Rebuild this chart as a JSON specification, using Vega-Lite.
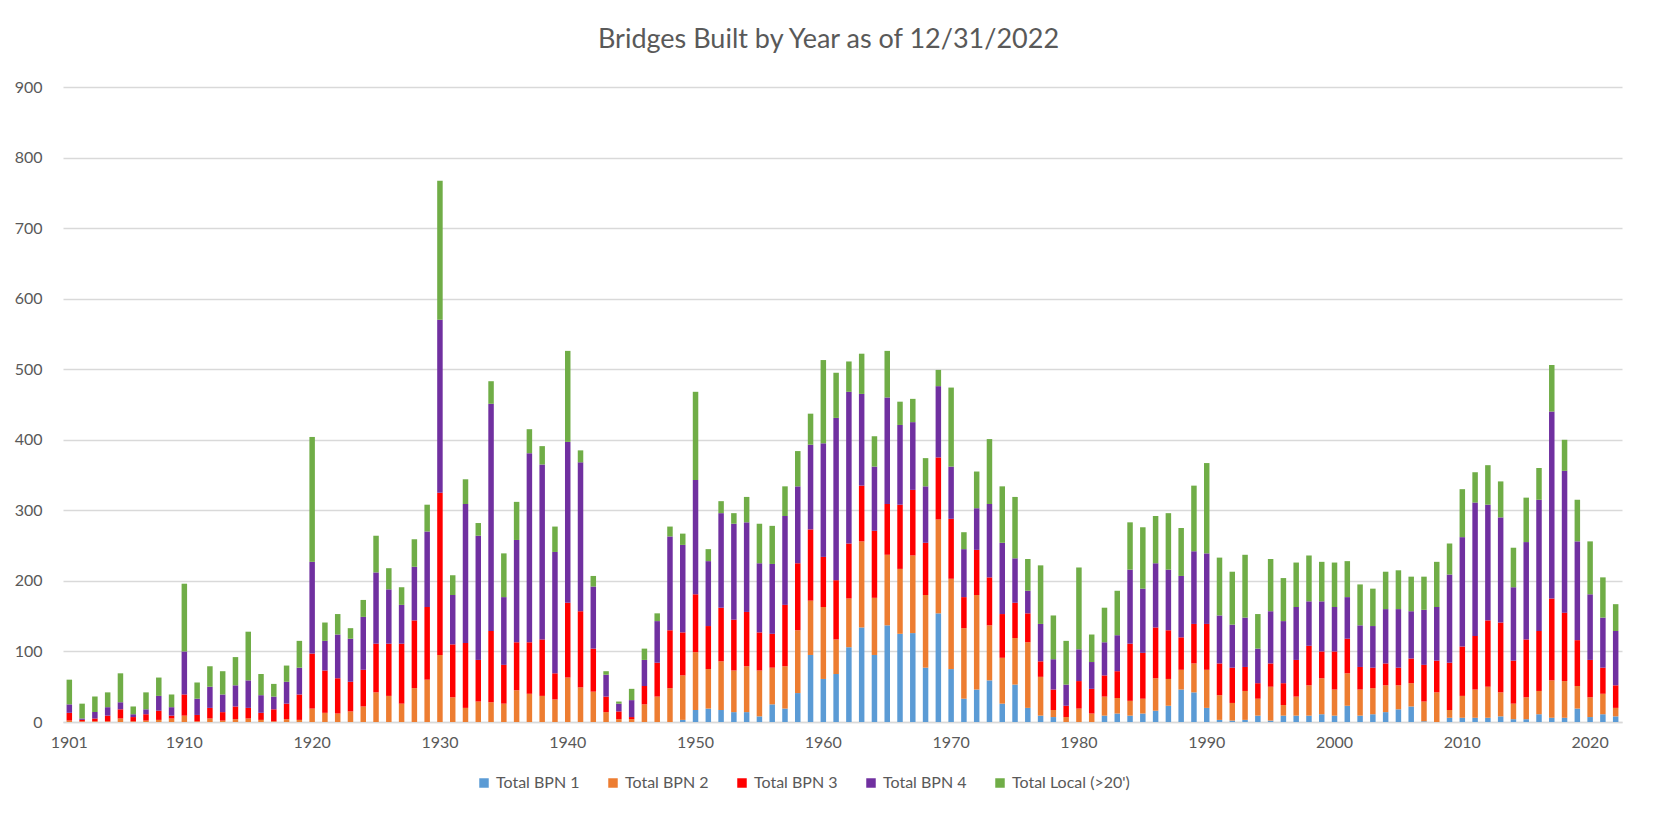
{
  "$schema": "https://vega.github.io/schema/vega-lite/v6.json",
  "autosize": {"type": "none"},
  "padding": {"left": 63, "top": 87, "right": 35, "bottom": 100},
  "width": 1559,
  "height": 635,
  "background": "white",
  "title": {"text": "Bridges Built by Year as of 12/31/2022", "font": "Lato", "fontSize": 27, "fontWeight": "normal", "color": "#595959", "anchor": "middle", "frame": "group", "dx": -14, "offset": 25},
  "config": {"view": {"stroke": null}, "font": "Lato"},
  "data": {"values": [
{"year":1901,"b1":0,"b2":2,"b3":11,"b4":12,"lo":35},
{"year":1902,"b1":0,"b2":1,"b3":2,"b4":2,"lo":21},
{"year":1903,"b1":0,"b2":1,"b3":4,"b4":9,"lo":22},
{"year":1904,"b1":0,"b2":1,"b3":8,"b4":12,"lo":21},
{"year":1905,"b1":0,"b2":5,"b3":13,"b4":10,"lo":41},
{"year":1906,"b1":0,"b2":1,"b3":6,"b4":4,"lo":11},
{"year":1907,"b1":0,"b2":2,"b3":9,"b4":7,"lo":24},
{"year":1908,"b1":0,"b2":3,"b3":13,"b4":21,"lo":26},
{"year":1909,"b1":0,"b2":5,"b3":4,"b4":12,"lo":18},
{"year":1910,"b1":0,"b2":9,"b3":30,"b4":61,"lo":96},
{"year":1911,"b1":0,"b2":1,"b3":9,"b4":23,"lo":23},
{"year":1912,"b1":0,"b2":5,"b3":15,"b4":30,"lo":29},
{"year":1913,"b1":0,"b2":2,"b3":12,"b4":25,"lo":33},
{"year":1914,"b1":0,"b2":4,"b3":18,"b4":30,"lo":40},
{"year":1915,"b1":0,"b2":5,"b3":15,"b4":39,"lo":69},
{"year":1916,"b1":0,"b2":3,"b3":10,"b4":25,"lo":30},
{"year":1917,"b1":0,"b2":1,"b3":17,"b4":18,"lo":18},
{"year":1918,"b1":0,"b2":4,"b3":22,"b4":31,"lo":23},
{"year":1919,"b1":0,"b2":3,"b3":36,"b4":38,"lo":38},
{"year":1920,"b1":0,"b2":19,"b3":78,"b4":130,"lo":177},
{"year":1921,"b1":0,"b2":13,"b3":60,"b4":42,"lo":26},
{"year":1922,"b1":0,"b2":12,"b3":50,"b4":62,"lo":29},
{"year":1923,"b1":0,"b2":15,"b3":42,"b4":61,"lo":15},
{"year":1924,"b1":0,"b2":22,"b3":52,"b4":75,"lo":24},
{"year":1925,"b1":0,"b2":42,"b3":69,"b4":101,"lo":52},
{"year":1926,"b1":0,"b2":37,"b3":74,"b4":77,"lo":30},
{"year":1927,"b1":0,"b2":26,"b3":85,"b4":55,"lo":25},
{"year":1928,"b1":0,"b2":48,"b3":96,"b4":76,"lo":39},
{"year":1929,"b1":0,"b2":60,"b3":103,"b4":107,"lo":38},
{"year":1930,"b1":0,"b2":95,"b3":230,"b4":245,"lo":197},
{"year":1931,"b1":0,"b2":35,"b3":75,"b4":70,"lo":28},
{"year":1932,"b1":0,"b2":20,"b3":92,"b4":197,"lo":35},
{"year":1933,"b1":0,"b2":29,"b3":59,"b4":176,"lo":18},
{"year":1934,"b1":0,"b2":28,"b3":101,"b4":322,"lo":32},
{"year":1935,"b1":0,"b2":26,"b3":55,"b4":96,"lo":62},
{"year":1936,"b1":0,"b2":45,"b3":68,"b4":145,"lo":54},
{"year":1937,"b1":0,"b2":40,"b3":73,"b4":268,"lo":34},
{"year":1938,"b1":0,"b2":37,"b3":80,"b4":248,"lo":26},
{"year":1939,"b1":0,"b2":32,"b3":37,"b4":172,"lo":36},
{"year":1940,"b1":0,"b2":63,"b3":106,"b4":228,"lo":129},
{"year":1941,"b1":0,"b2":49,"b3":108,"b4":211,"lo":17},
{"year":1942,"b1":0,"b2":43,"b3":61,"b4":88,"lo":15},
{"year":1943,"b1":0,"b2":14,"b3":22,"b4":31,"lo":5},
{"year":1944,"b1":0,"b2":4,"b3":11,"b4":11,"lo":3},
{"year":1945,"b1":0,"b2":4,"b3":3,"b4":24,"lo":16},
{"year":1946,"b1":0,"b2":25,"b3":26,"b4":37,"lo":16},
{"year":1947,"b1":0,"b2":36,"b3":48,"b4":59,"lo":11},
{"year":1948,"b1":0,"b2":48,"b3":82,"b4":133,"lo":14},
{"year":1949,"b1":3,"b2":63,"b3":61,"b4":124,"lo":16},
{"year":1950,"b1":17,"b2":82,"b3":82,"b4":162,"lo":125},
{"year":1951,"b1":19,"b2":56,"b3":61,"b4":92,"lo":17},
{"year":1952,"b1":17,"b2":69,"b3":76,"b4":134,"lo":17},
{"year":1953,"b1":14,"b2":59,"b3":72,"b4":136,"lo":15},
{"year":1954,"b1":14,"b2":65,"b3":77,"b4":127,"lo":36},
{"year":1955,"b1":8,"b2":65,"b3":54,"b4":98,"lo":56},
{"year":1956,"b1":25,"b2":52,"b3":48,"b4":99,"lo":54},
{"year":1957,"b1":19,"b2":60,"b3":87,"b4":126,"lo":42},
{"year":1958,"b1":41,"b2":89,"b3":95,"b4":109,"lo":50},
{"year":1959,"b1":95,"b2":77,"b3":101,"b4":120,"lo":44},
{"year":1960,"b1":61,"b2":102,"b3":71,"b4":161,"lo":118},
{"year":1961,"b1":68,"b2":49,"b3":84,"b4":230,"lo":64},
{"year":1962,"b1":106,"b2":69,"b3":78,"b4":215,"lo":43},
{"year":1963,"b1":134,"b2":122,"b3":79,"b4":130,"lo":57},
{"year":1964,"b1":95,"b2":81,"b3":95,"b4":91,"lo":43},
{"year":1965,"b1":137,"b2":100,"b3":72,"b4":151,"lo":66},
{"year":1966,"b1":125,"b2":92,"b3":91,"b4":113,"lo":33},
{"year":1967,"b1":126,"b2":110,"b3":93,"b4":96,"lo":33},
{"year":1968,"b1":77,"b2":103,"b3":74,"b4":80,"lo":40},
{"year":1969,"b1":154,"b2":133,"b3":88,"b4":101,"lo":23},
{"year":1970,"b1":75,"b2":128,"b3":85,"b4":74,"lo":112},
{"year":1971,"b1":33,"b2":100,"b3":44,"b4":68,"lo":24},
{"year":1972,"b1":46,"b2":134,"b3":64,"b4":59,"lo":52},
{"year":1973,"b1":59,"b2":78,"b3":68,"b4":104,"lo":92},
{"year":1974,"b1":26,"b2":65,"b3":62,"b4":101,"lo":80},
{"year":1975,"b1":53,"b2":66,"b3":50,"b4":63,"lo":87},
{"year":1976,"b1":20,"b2":93,"b3":41,"b4":32,"lo":45},
{"year":1977,"b1":9,"b2":55,"b3":22,"b4":53,"lo":83},
{"year":1978,"b1":7,"b2":10,"b3":29,"b4":43,"lo":62},
{"year":1979,"b1":0,"b2":7,"b3":16,"b4":30,"lo":62},
{"year":1980,"b1":0,"b2":19,"b3":39,"b4":45,"lo":116},
{"year":1981,"b1":0,"b2":12,"b3":35,"b4":38,"lo":39},
{"year":1982,"b1":9,"b2":27,"b3":30,"b4":47,"lo":49},
{"year":1983,"b1":12,"b2":22,"b3":38,"b4":51,"lo":63},
{"year":1984,"b1":9,"b2":21,"b3":81,"b4":105,"lo":67},
{"year":1985,"b1":12,"b2":21,"b3":65,"b4":91,"lo":87},
{"year":1986,"b1":16,"b2":46,"b3":72,"b4":91,"lo":67},
{"year":1987,"b1":23,"b2":38,"b3":69,"b4":86,"lo":80},
{"year":1988,"b1":46,"b2":28,"b3":46,"b4":87,"lo":68},
{"year":1989,"b1":42,"b2":41,"b3":56,"b4":103,"lo":93},
{"year":1990,"b1":20,"b2":54,"b3":65,"b4":100,"lo":128},
{"year":1991,"b1":3,"b2":35,"b3":45,"b4":68,"lo":82},
{"year":1992,"b1":2,"b2":25,"b3":50,"b4":61,"lo":75},
{"year":1993,"b1":3,"b2":41,"b3":34,"b4":70,"lo":89},
{"year":1994,"b1":9,"b2":24,"b3":22,"b4":49,"lo":49},
{"year":1995,"b1":2,"b2":48,"b3":33,"b4":74,"lo":74},
{"year":1996,"b1":9,"b2":15,"b3":31,"b4":88,"lo":61},
{"year":1997,"b1":9,"b2":27,"b3":52,"b4":75,"lo":63},
{"year":1998,"b1":9,"b2":43,"b3":56,"b4":63,"lo":65},
{"year":1999,"b1":11,"b2":51,"b3":38,"b4":71,"lo":56},
{"year":2000,"b1":9,"b2":37,"b3":54,"b4":63,"lo":63},
{"year":2001,"b1":23,"b2":46,"b3":49,"b4":59,"lo":51},
{"year":2002,"b1":9,"b2":37,"b3":32,"b4":59,"lo":58},
{"year":2003,"b1":11,"b2":37,"b3":29,"b4":59,"lo":53},
{"year":2004,"b1":14,"b2":38,"b3":31,"b4":77,"lo":53},
{"year":2005,"b1":18,"b2":34,"b3":25,"b4":83,"lo":55},
{"year":2006,"b1":22,"b2":33,"b3":35,"b4":67,"lo":49},
{"year":2007,"b1":1,"b2":28,"b3":52,"b4":78,"lo":47},
{"year":2008,"b1":0,"b2":42,"b3":45,"b4":76,"lo":64},
{"year":2009,"b1":6,"b2":11,"b3":67,"b4":125,"lo":44},
{"year":2010,"b1":6,"b2":31,"b3":70,"b4":155,"lo":68},
{"year":2011,"b1":6,"b2":40,"b3":76,"b4":189,"lo":43},
{"year":2012,"b1":6,"b2":44,"b3":94,"b4":164,"lo":56},
{"year":2013,"b1":8,"b2":34,"b3":99,"b4":149,"lo":51},
{"year":2014,"b1":4,"b2":22,"b3":61,"b4":104,"lo":56},
{"year":2015,"b1":4,"b2":31,"b3":82,"b4":138,"lo":63},
{"year":2016,"b1":11,"b2":33,"b3":85,"b4":186,"lo":45},
{"year":2017,"b1":6,"b2":53,"b3":116,"b4":265,"lo":66},
{"year":2018,"b1":6,"b2":52,"b3":97,"b4":201,"lo":44},
{"year":2019,"b1":19,"b2":32,"b3":65,"b4":140,"lo":59},
{"year":2020,"b1":7,"b2":28,"b3":53,"b4":93,"lo":75},
{"year":2021,"b1":11,"b2":29,"b3":37,"b4":71,"lo":57},
{"year":2022,"b1":8,"b2":12,"b3":32,"b4":77,"lo":38}
  ]},
  "transform": [{"fold": ["b1", "b2", "b3", "b4", "lo"], "as": ["series", "count"]}],
  "mark": {"type": "bar"},
  "encoding": {
    "x": {"field": "year", "type": "ordinal", "title": null,
      "scale": {"paddingInner": 0.57, "paddingOuter": 0.28},
      "axis": {"values": [1901,1910,1920,1930,1940,1950,1960,1970,1980,1990,2000,2010,2020], "labelAngle": 0, "ticks": false, "domainColor": "#d9d9d9", "domainWidth": 1.5, "labelColor": "#595959", "labelFontSize": 16, "labelPadding": 12, "labelFont": "Lato"}},
    "y": {"field": "count", "type": "quantitative", "stack": "zero", "title": null,
      "scale": {"domain": [0, 900], "nice": false},
      "axis": {"values": [0,100,200,300,400,500,600,700,800,900], "domain": false, "ticks": false, "gridColor": "#d9d9d9", "gridWidth": 1.5, "labelColor": "#595959", "labelFontSize": 16, "labelPadding": 21, "labelFont": "Lato"}},
    "color": {"field": "series", "type": "nominal",
      "scale": {"domain": ["b1", "b2", "b3", "b4", "lo"], "range": ["#5B9BD5", "#ED7D31", "#FF0000", "#7030A0", "#70AD47"]},
      "legend": {"title": null, "orient": "none", "legendX": 413, "legendY": 688, "direction": "horizontal", "columns": 5, "symbolType": "square", "symbolSize": 90, "symbolStrokeWidth": 0, "labelFontSize": 16, "labelColor": "#595959", "labelFont": "Lato", "columnPadding": 25, "labelOffset": 4,
        "labelExpr": "{'b1':'Total BPN 1','b2':'Total BPN 2','b3':'Total BPN 3','b4':'Total BPN 4','lo':\"Total Local (>20')\"}[datum.value]"}},
    "order": {"field": "series", "sort": "ascending"}
  }
}
